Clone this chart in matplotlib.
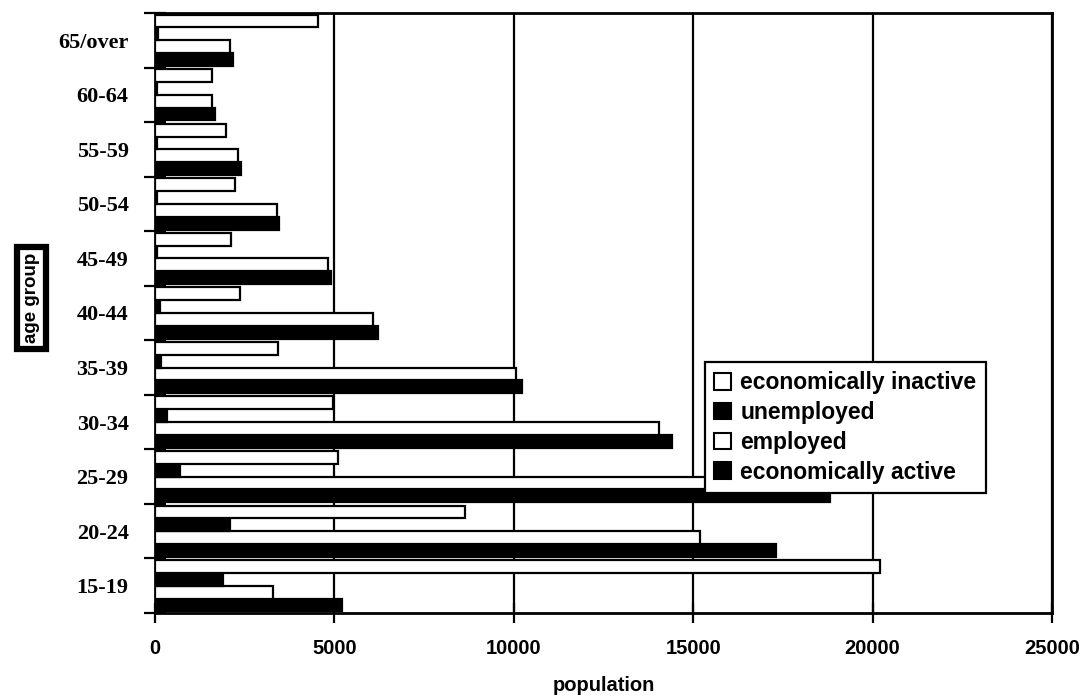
import matplotlib
matplotlib.use("Agg")
import matplotlib.pyplot as plt
import numpy as np
from matplotlib.patches import Patch

age_groups = ['15-19', '20-24', '25-29', '30-34', '35-39', '40-44',
              '45-49', '50-54', '55-59', '60-64', '65/over']
econ_active = [5200, 17300, 18800, 14400, 10220, 6210, 4900, 3460, 2390, 1680, 2170]
employed = [3280, 15200, 18100, 14050, 10060, 6080, 4830, 3390, 2320, 1600, 2090]
unemployed = [1910, 2100, 690, 330, 160, 130, 70, 70, 70, 70, 80]
inactive = [20200, 8630, 5100, 4950, 3430, 2370, 2120, 2220, 1990, 1580, 4540]

series = [
    ('economically active', econ_active, 'black'),
    ('employed', employed, 'white'),
    ('unemployed', unemployed, 'black'),
    ('economically inactive', inactive, 'white'),
]

fig = plt.figure(figsize=(10.89, 6.98), dpi=100)
ax = fig.add_axes([0.1423, 0.1218, 0.8237, 0.8596])

y = np.arange(len(age_groups))
h = 0.235
offsets = [-1.5 * h, -0.5 * h, 0.5 * h, 1.5 * h]
for (name, vals, col), off in zip(series, offsets):
    ax.barh(y + off, vals, height=h, color=col, edgecolor='black',
            linewidth=1.6, zorder=3)

ax.set_xlim(0, 25000)
ax.set_ylim(-0.5, len(age_groups) - 0.5)
ax.set_axisbelow(True)
ax.xaxis.grid(True, color='black', linewidth=1.6, zorder=0)
ax.set_xticks(np.arange(0, 25001, 5000))
ax.set_xticklabels([str(v) for v in range(0, 25001, 5000)],
                   fontfamily='Liberation Sans', fontweight='bold', fontsize=14.5)
ax.tick_params(axis='x', direction='inout', length=14, width=1.6, pad=12)

ax.set_yticks(y)
ax.set_yticklabels(age_groups, fontfamily='Liberation Serif',
                   fontweight='bold', fontsize=16)
ax.tick_params(axis='y', which='major', length=0, pad=19)
ax.set_yticks(np.arange(-0.5, len(age_groups), 1), minor=True)
ax.tick_params(axis='y', which='minor', direction='inout', length=16, width=1.6)

for s in ax.spines.values():
    s.set_linewidth(2)
    s.set_color('black')

ax.set_xlabel('population', fontfamily='Liberation Sans', fontweight='bold',
              fontsize=14.5, labelpad=13)
fig.text(0.029, 0.573, 'age group', rotation=90, ha='center', va='center',
         fontfamily='Liberation Sans', fontweight='bold', fontsize=13.5,
         bbox=dict(boxstyle='square,pad=0.3', facecolor='white',
                   edgecolor='black', linewidth=4.5))

handles = [Patch(facecolor=c, edgecolor='black', linewidth=1.5, label=n)
           for (n, v, c) in reversed(series)]
leg = ax.legend(handles=handles, loc='lower left', bbox_to_anchor=(0.613, 0.2),
                prop=dict(family='Liberation Sans', weight='bold', size=16.5),
                frameon=True, fancybox=False, framealpha=1, edgecolor='black',
                handlelength=0.75, handleheight=0.75, handletextpad=0.4,
                labelspacing=0.3, borderpad=0.4, borderaxespad=0)
leg.get_frame().set_linewidth(1.6)
leg.set_zorder(10)

fig.savefig('out.png', dpi=100)
